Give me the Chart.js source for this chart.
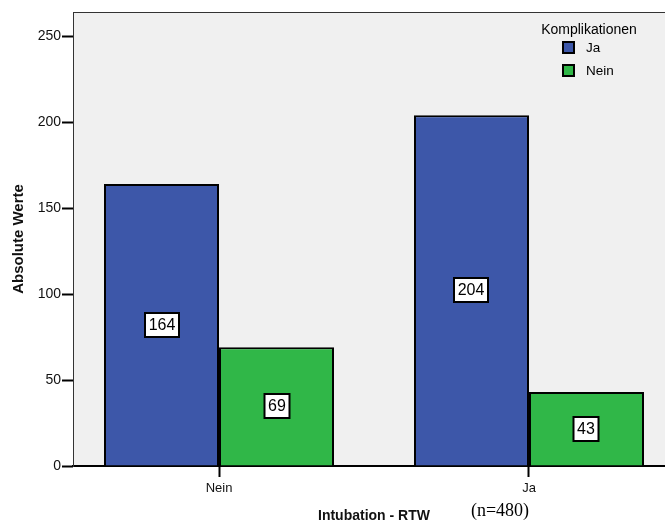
<!DOCTYPE html>
<html>
<head>
<meta charset="utf-8">
<script src="https://cdn.jsdelivr.net/npm/chart.js@4"></script>
<style>
    body { margin: 0; background: #fff; overflow: hidden; }
</style>
</head>
<body>
<canvas id="chart" width="690" height="529"></canvas>
<script>
// Intubation - RTW (x) / Komplikationen (series)
const categories = ['Nein', 'Ja'];
const komplikationenJa = [164, 204];
const komplikationenNein = [69, 43];
const seriesNames = ['Ja', 'Nein'];
const yTicks = [0, 50, 100, 150, 200, 250];
const sampleNote = '(n=480)';

const blueColor = '#3d57a9';
const greenColor = '#30b748';
const plotBg = '#f0f0f0';
const fontFamily = '"Liberation Sans", Arial, sans-serif';

function toPoints(values) {
    return values.map((v, i) => ({ x: i, y: v }));
}

// Hintergrund und Rahmen der Plotfläche
const plotFrame = {
    id: 'plotFrame',
    beforeDraw(chart) {
        const { ctx, chartArea: a } = chart;
        ctx.save();
        ctx.fillStyle = plotBg;
        ctx.fillRect(a.left, a.top, a.right - a.left, a.bottom - a.top);
        ctx.strokeStyle = '#333';
        ctx.lineWidth = 1;
        ctx.strokeRect(a.left + 0.5, a.top + 0.5, a.right - a.left, a.bottom - a.top);
        ctx.restore();
    }
};

// Werte in weißen Kästchen in der Mitte der Balken
const valueBoxes = {
    id: 'valueBoxes',
    afterDatasetsDraw(chart) {
        const ctx = chart.ctx;
        ctx.save();
        ctx.font = '16px ' + fontFamily;
        ctx.textAlign = 'center';
        ctx.textBaseline = 'middle';
        chart.data.datasets.forEach((ds, di) => {
            chart.getDatasetMeta(di).data.forEach((bar, i) => {
                const text = String(ds.data[i].y);
                const w = Math.round(ctx.measureText(text).width) + 7;
                const h = 24;
                const cx = Math.round(bar.x);
                const cy = Math.round((bar.y + bar.base) / 2);
                ctx.fillStyle = '#fff';
                ctx.fillRect(cx - w / 2, cy - h / 2, w, h);
                ctx.lineWidth = 2;
                ctx.strokeStyle = '#000';
                ctx.strokeRect(cx - w / 2, cy - h / 2, w, h);
                ctx.fillStyle = '#000';
                ctx.fillText(text, cx, cy + 1);
            });
        });
        ctx.restore();
    }
};

// Legende oben rechts und Stichprobengröße
const legendAndNote = {
    id: 'legendAndNote',
    afterDraw(chart) {
        const { ctx, chartArea: a } = chart;
        ctx.save();
        ctx.fillStyle = '#000';
        ctx.font = '14px ' + fontFamily;
        ctx.textAlign = 'center';
        ctx.textBaseline = 'middle';
        ctx.fillText('Komplikationen', a.right - 86, a.top + 18);
        ctx.textAlign = 'left';
        ctx.font = '13.5px ' + fontFamily;
        chart.data.datasets.forEach((ds, i) => {
            const y = a.top + 30 + i * 23;
            ctx.fillStyle = ds.backgroundColor;
            ctx.fillRect(a.right - 112, y, 11, 11);
            ctx.strokeStyle = '#000';
            ctx.lineWidth = 2;
            ctx.strokeRect(a.right - 112, y, 11, 11);
            ctx.fillStyle = '#000';
            ctx.fillText(ds.label, a.right - 89, y + 6);
        });
        ctx.font = '18px "Liberation Serif", "Times New Roman", serif';
        ctx.textAlign = 'center';
        ctx.fillText(sampleNote, (a.left + a.right) / 2 + 126, 511);
        ctx.restore();
    }
};

new Chart(document.getElementById('chart'), {
    type: 'bar',
    data: {
        datasets: [
            { label: seriesNames[0], data: toPoints(komplikationenJa), backgroundColor: blueColor, borderColor: '#000', borderWidth: 2 },
            { label: seriesNames[1], data: toPoints(komplikationenNein), backgroundColor: greenColor, borderColor: '#000', borderWidth: 2 }
        ]
    },
    options: {
        responsive: false,
        animation: false,
        categoryPercentage: 0.742,
        barPercentage: 1,
        layout: { padding: { top: 12, right: 15, left: 0, bottom: 0 } },
        plugins: {
            legend: { display: false },
            tooltip: { enabled: false }
        },
        scales: {
            x: {
                type: 'linear',
                offset: false,
                min: -0.471,
                max: 1.471,
                afterBuildTicks(scale) {
                    scale.ticks = categories.map((c, i) => ({ value: i }));
                },
                afterFit(scale) { scale.height = 63; },
                ticks: {
                    color: '#111',
                    font: { family: fontFamily, size: 13 },
                    padding: 4,
                    callback: (v) => categories[v]
                },
                grid: { offset: false, drawOnChartArea: false, tickLength: 11, tickColor: '#000', tickWidth: 2 },
                border: { color: '#000', width: 2 },
                title: {
                    display: true,
                    text: 'Intubation - RTW',
                    color: '#111',
                    font: { family: fontFamily, size: 14, weight: 'bold' },
                    padding: { bottom: 4 }
                }
            },
            y: {
                min: 0,
                max: 264,
                afterBuildTicks(scale) {
                    scale.ticks = yTicks.map(v => ({ value: v }));
                },
                afterFit(scale) { scale.width = 73; },
                ticks: {
                    color: '#111',
                    font: { family: fontFamily, size: 14 },
                    padding: 1
                },
                grid: { drawOnChartArea: false, tickLength: 11, tickColor: '#000', tickWidth: 2 },
                border: { color: '#333', width: 1 },
                title: {
                    display: true,
                    text: 'Absolute Werte',
                    color: '#111',
                    font: { family: fontFamily, size: 15, weight: 'bold' },
                    padding: { top: 10 }
                }
            }
        }
    },
    plugins: [plotFrame, valueBoxes, legendAndNote]
});
</script>
</body>
</html>
